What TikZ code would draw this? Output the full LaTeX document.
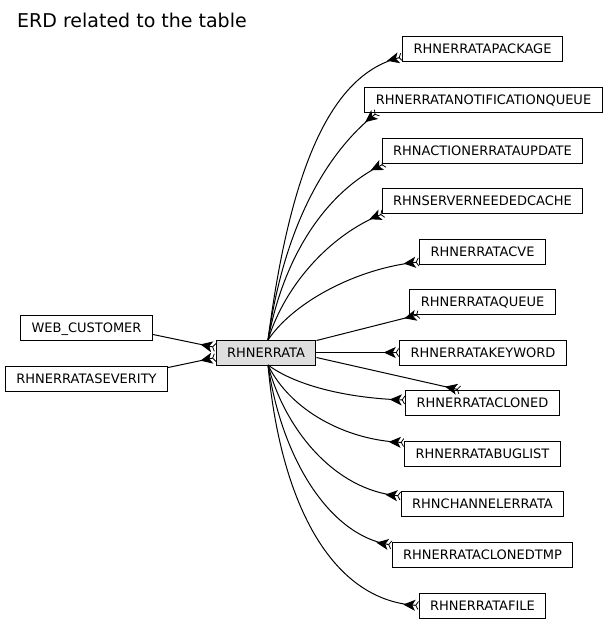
\documentclass[tikz,border=0pt]{standalone}
\usepackage{fontspec}
\setmainfont{DejaVu Sans}
\usetikzlibrary{arrows.meta}
\definecolor{centerfill}{RGB}{222,222,222}
\tikzset{
  tbl/.style={draw=black, line width=1pt, inner xsep=11pt, inner ysep=0pt,
    minimum height=25pt, font=\fontsize{13}{14}\selectfont, text height=9.4pt, text depth=0pt},
  ctr/.style={tbl, fill=centerfill},
  crowtip/.tip={Stealth[reversed,length=12pt,width=11pt,inset=3pt] Straight Barb[reversed,length=2.5pt,width=8pt,line width=0.8pt]},
  rel/.style={line width=1pt, -{crowtip}}
}
\begin{document}
\begin{tikzpicture}[x=1pt,y=-1pt]
\useasboundingbox (0,0) rectangle (608,625);
\node[anchor=base west, font=\fontsize{19}{21}\selectfont, inner sep=0pt] (title) at (17,27) {ERD related to the table};

\node[ctr] (c) at (266,352.5) {RHNERRATA};
\node[tbl] (web) at (86.5,327.5) {WEB\_CUSTOMER};
\node[tbl] (sev) at (86.5,378.5) {RHNERRATASEVERITY};

\node[tbl] (pkg) at (482.5,49) {RHNERRATAPACKAGE};
\node[tbl] (notif) at (483.5,99.5) {RHNERRATANOTIFICATIONQUEUE};
\node[tbl] (act) at (482.5,150.5) {RHNACTIONERRATAUPDATE};
\node[tbl] (srv) at (482.5,200.5) {RHNSERVERNEEDEDCACHE};
\node[tbl] (cve) at (482.5,252) {RHNERRATACVE};
\node[tbl] (que) at (482.5,301.5) {RHNERRATAQUEUE};
\node[tbl] (kw) at (483,352.5) {RHNERRATAKEYWORD};
\node[tbl] (cln) at (482.5,403) {RHNERRATACLONED};
\node[tbl] (bug) at (482.5,453.5) {RHNERRATABUGLIST};
\node[tbl] (chan) at (482.5,504) {RHNCHANNELERRATA};
\node[tbl] (tmp) at (482.5,555) {RHNERRATACLONEDTMP};
\node[tbl] (file) at (482.5,605.5) {RHNERRATAFILE};

\coordinate (ct) at (268,340);
\coordinate (cb) at (268,365);

\draw[rel] ([yshift=-7pt]web.east) -- ([yshift=5pt]c.west);
\draw[rel] ([yshift=-2pt]sev.north east) -- ([yshift=-5pt]c.west);

\draw[rel] (ct) .. controls (290,170) and (330,75) .. ([yshift=-8pt]pkg.west);
\draw[rel] (ct) .. controls (285,220) and (330,150) .. ([xshift=13pt]notif.south west);
\draw[rel] (ct) .. controls (285,250) and (330,190) .. ([xshift=3pt]act.south west);
\draw[rel] (ct) .. controls (285,285) and (330,235) .. ([xshift=2pt]srv.south west);
\draw[rel] (ct) .. controls (295,300) and (360,268) .. ([yshift=-10pt]cve.west);
\draw[rel] ([yshift=12pt]c.east) -- ([xshift=10pt]que.south west);
\draw[rel] (c.east) -- (kw.west);
\draw[rel] ([yshift=-5pt]c.east) -- ([xshift=55pt]cln.north west);
\draw[rel] (cb) .. controls (295,385) and (345,398) .. ([yshift=3pt]cln.west);
\draw[rel] (cb) .. controls (290,410) and (345,440) .. ([yshift=-2pt]bug.north west);
\draw[rel] (cb) .. controls (285,430) and (335,490) .. ([yshift=8pt]chan.west);
\draw[rel] (cb) .. controls (282,460) and (330,535) .. ([yshift=-3pt]tmp.north west);
\draw[rel] (cb) .. controls (280,500) and (330,600) .. (file.west);
\end{tikzpicture}
\end{document}
